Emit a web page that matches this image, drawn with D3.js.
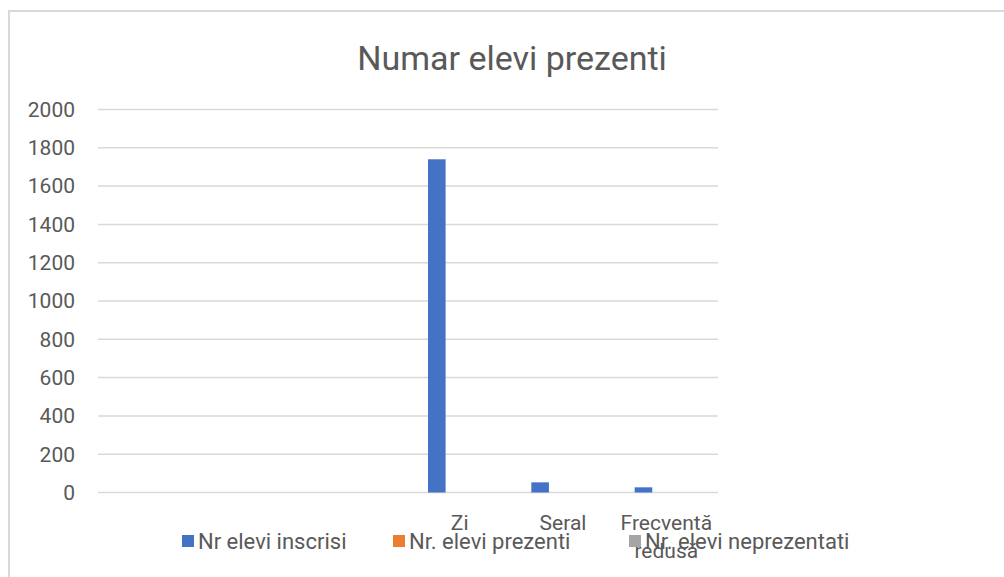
<html>
<head>
    <meta charset="utf-8">
    <title>Numar elevi prezenti</title>
    <script src="https://d3js.org/d3.v7.min.js"></script>
    <style>
        body { margin: 0; background: #fff; }
        .grid line { stroke: #d9d9d9; stroke-width: 1.5px; }
        text { font-family: Roboto, "Liberation Sans", sans-serif; fill: #595959; }
    </style>
</head>
<body>
    <svg id="chart" width="1004" height="577"></svg>
    <script>
        // data
        const categories = ["", "", "", "Zi", "Seral", "Frecventă redusă"];
        const seriesNames = ["Nr elevi inscrisi", "Nr. elevi prezenti", "Nr. elevi neprezentati"];
        const inscrisi = [null, null, null, 1740, 53, 27];
        const prezenti = [null, null, null, 0, 0, 0];
        const neprezentati = [null, null, null, 0, 0, 0];
        const yTicks = [0, 200, 400, 600, 800, 1000, 1200, 1400, 1600, 1800, 2000];
        const colors = ["#4472C4", "#ED7D31", "#A5A5A5"];

        const seriesValues = [inscrisi, prezenti, neprezentati];

        const svg = d3.select("#chart");

        // chart outline
        svg.append("rect")
            .attr("x", 9).attr("y", 11)
            .attr("width", 1010).attr("height", 580)
            .attr("fill", "none")
            .attr("stroke", "#d9d9d9")
            .attr("stroke-width", 2);

        svg.append("text")
            .attr("x", 512).attr("y", 70)
            .attr("text-anchor", "middle")
            .attr("font-size", 34)
            .text("Numar elevi prezenti");

        const y = d3.scaleLinear().domain([0, 2000]).range([492.5, 109.5]);
        const x0 = d3.scaleBand().domain(d3.range(categories.length)).range([98, 718]);
        const barW = 17.6;
        const x1 = d3.scaleBand().domain(seriesNames).range([0, barW * seriesNames.length]);
        const groupOffset = 20;

        // gridlines
        svg.append("g").attr("class", "grid")
            .selectAll("line").data(yTicks).join("line")
            .attr("x1", 98).attr("x2", 718)
            .attr("y1", d => y(d)).attr("y2", d => y(d));

        // y tick labels
        svg.append("g").selectAll("text").data(yTicks).join("text")
            .attr("x", 75)
            .attr("y", d => y(d))
            .attr("dy", "0.35em")
            .attr("text-anchor", "end")
            .attr("font-size", 21)
            .text(d => d);

        // bars
        const bars = [];
        seriesValues.forEach((vals, s) => {
            vals.forEach((v, i) => {
                if (v !== null) bars.push({ s: s, i: i, v: v });
            });
        });
        svg.append("g").selectAll("rect").data(bars).join("rect")
            .attr("x", d => x0(d.i) + groupOffset + x1(seriesNames[d.s]))
            .attr("width", x1.bandwidth())
            .attr("y", d => y(d.v))
            .attr("height", d => y(0) - y(d.v))
            .attr("fill", d => colors[d.s]);

        // category labels (wrapped)
        const catG = svg.append("g");
        categories.forEach((c, i) => {
            if (!c) return;
            const words = c.split(" ");
            const t = catG.append("text")
                .attr("text-anchor", "middle")
                .attr("font-size", 21);
            words.forEach((w, k) => {
                t.append("tspan")
                    .attr("x", x0(i) + x0.bandwidth() / 2)
                    .attr("y", 530 + k * 28)
                    .text(w);
            });
        });

        // legend
        const legendX = [182, 393, 629];
        const leg = svg.append("g");
        seriesNames.forEach((n, i) => {
            leg.append("rect")
                .attr("x", legendX[i]).attr("y", 535)
                .attr("width", 12).attr("height", 12)
                .attr("fill", colors[i]);
            leg.append("text")
                .attr("x", legendX[i] + 16).attr("y", 549)
                .attr("font-size", 22)
                .text(n);
        });
    </script>
</body>
</html>
